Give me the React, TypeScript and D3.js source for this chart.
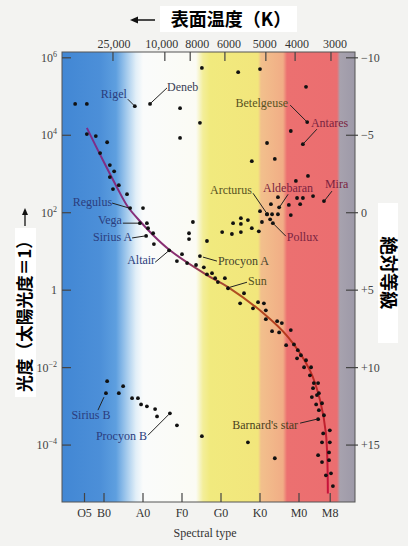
import React from "react";
import * as d3 from "d3";

// spectral type is a continuous index: O=0, B=10, A=20, F=30, G=40, K=50, M=60
const spectralLabels = ["O5", "B0", "A0", "F0", "G0", "K0", "M0", "M8"];
const spectralValues = [5, 10, 20, 30, 40, 50, 60, 68];

const tempLabels = ["25,000", "10,000", "8000", "6000", "5000", "4000", "3000"];
const tempSpectral = [12.3, 25.6, 32.1, 41.0, 51.5, 59.0, 68.2];

const lumExponents = [6, 4, 2, 0, -2, -4];
const magTicks = [-10, -5, 0, 5, 10, 15];

// main sequence line [spectral, log10 L]
const mainSequence: [number, number][] = [
  [5.6, 4.19], [9.7, 3.36], [13.3, 2.66], [16.2, 2.14], [19.7, 1.73],
  [22.6, 1.42], [26.9, 1.03], [36.4, 0.39], [41.8, 0.08], [50.8, -0.59],
  [57.2, -1.21], [62.8, -2.07], [65.4, -2.84], [66.9, -3.7], [67.4, -5.25],
];

// unnamed stars [spectral, log10 L]
const stars: [number, number][] = [
  [2.6, 4.81], [5.6, 4.81], [29.5, 4.7], [35.1, 5.74], [44.4, 5.63], [50.0, 5.71],
  [61.8, 5.25], [34.6, 4.32], [29.5, 3.93], [57.9, 4.11], [51.8, 3.8], [47.9, 3.33],
  [53.8, 3.39], [59.2, 2.82], [62.3, 2.95],
  [54.6, 2.4], [52.8, 2.22], [51.8, 1.96], [53.1, 1.96], [54.6, 1.96], [50.0, 2.04],
  [57.4, 2.2], [59.5, 2.38], [61.0, 2.38], [60.3, 2.22], [63.6, 2.43], [57.9, 1.94],
  [50.5, 1.76], [52.6, 1.83], [45.1, 1.86], [46.9, 1.81], [43.1, 1.73], [45.1, 1.71],
  [47.9, 1.6], [45.1, 1.5], [42.8, 1.45], [40.3, 1.5], [49.7, 1.52], [32.8, 1.76],
  [31.8, 1.47], [31.8, 1.32], [36.4, 1.27],
  [5.6, 4.03], [7.9, 3.98], [10.8, 3.82], [9.0, 3.54], [11.5, 3.23], [12.6, 3.07],
  [11.5, 2.92], [13.8, 2.71], [12.3, 2.61], [15.9, 2.48], [20.0, 2.12], [21.0, 1.73],
  [21.3, 1.6], [22.6, 1.47], [22.8, 1.19], [28.7, 0.75], [30.0, 0.93], [31.3, 0.7],
  [33.6, 0.65], [35.6, 0.59], [36.4, 0.41],
  [37.7, 0.44], [38.5, 0.31], [39.2, 0.21], [41.0, 0.31], [44.9, -0.34], [45.9, -0.08],
  [48.2, -0.47], [49.5, -0.31], [51.0, -0.34], [51.5, -0.52], [51.5, -0.75], [54.4, -0.8],
  [55.6, -0.85], [53.1, -1.06], [54.9, -1.09], [57.9, -1.03], [56.7, -1.42], [58.7, -1.4],
  [59.7, -1.55], [60.5, -1.68], [59.5, -1.76], [61.8, -1.81], [61.3, -1.99], [63.1, -1.99],
  [62.8, -2.2], [63.8, -2.4], [64.9, -2.4], [63.6, -2.53], [64.6, -2.71], [65.1, -2.66],
  [63.3, -2.76], [64.4, -2.95], [65.9, -2.92], [65.1, -3.1], [66.4, -3.23], [67.9, -3.62],
  [66.2, -3.7], [65.9, -3.93], [67.9, -3.93], [64.9, -4.26], [67.7, -4.19], [65.9, -4.44],
  [67.7, -4.39], [66.9, -4.78], [68.2, -4.73], [68.7, -5.06],
  [35.1, -3.77], [46.9, -3.93], [53.8, -4.34],
  [10.8, -2.35], [13.8, -2.66], [14.9, -2.48], [17.2, -2.79], [18.7, -2.79], [19.5, -2.95],
  [21.0, -3.0], [23.1, -3.07], [23.6, -3.26], [28.7, -3.49],
];

const namedStars = [
  { name: "Rigel", s: 17.9, logL: 4.75 },
  { name: "Deneb", s: 21.8, logL: 4.81 },
  { name: "Betelgeuse", s: 62.1, logL: 4.34 },
  { name: "Antares", s: 61.0, logL: 3.77 },
  { name: "Mira", s: 66.4, logL: 2.3 },
  { name: "Aldebaran", s: 54.9, logL: 2.14 },
  { name: "Arcturus", s: 51.8, logL: 1.96 },
  { name: "Pollux", s: 53.3, logL: 1.73 },
  { name: "Regulus", s: 16.7, logL: 2.12 },
  { name: "Vega", s: 19.2, logL: 1.73 },
  { name: "Sirius A", s: 20.8, logL: 1.4 },
  { name: "Altair", s: 26.7, logL: 1.03 },
  { name: "Procyon A", s: 34.6, logL: 0.88 },
  { name: "Sun", s: 41.8, logL: 0.05 },
  { name: "Barnard's star", s: 64.9, logL: -3.33 },
  { name: "Sirius B", s: 10.5, logL: -2.66 },
  { name: "Procyon B", s: 26.9, logL: -3.18 },
];

const BLUE = "#2b3d7d";
const OLIVE = "#57521f";
const MAROON = "#7a2440";

// label placement relative to the star (pixels)
const labelLayout: Record<string, any> = {
  Rigel: { dx: -8, dy: -8, anchor: "end", l: [-7, -7, -1, -1], c: BLUE },
  Deneb: { dx: 17, dy: -13, anchor: "start", l: [17, -16, 1, -1], c: "#3a3f55" },
  Betelgeuse: { dx: -19, dy: -15, anchor: "end", l: [-17, -17, -1, -1], c: OLIVE },
  Antares: { dx: 8, dy: -17, anchor: "start", l: [14, -15, 1, -1], c: MAROON },
  Mira: { dx: 1, dy: -13, anchor: "start", l: [8, -10, 1, -1], c: MAROON },
  Aldebaran: { dx: -16, dy: -15, anchor: "start", l: [9, -13, 1, -1], c: MAROON },
  Arcturus: { dx: -15, dy: -20, anchor: "end", l: [-14, -21, -1, -2], c: OLIVE },
  Pollux: { dx: 14, dy: 18, anchor: "start", l: [13, 13, 1, 1], c: MAROON },
  Regulus: { dx: -18, dy: -2, anchor: "end", l: [-18, -5, -1, 0], c: BLUE },
  Vega: { dx: -18, dy: 1, anchor: "end", l: [-17, 0, -1, 0], c: BLUE },
  "Sirius A": { dx: -14, dy: 5, anchor: "end", l: [-14, 2, -1, 0], c: BLUE },
  Altair: { dx: -14, dy: 14, anchor: "end", l: [-14, 12, -1, 1], c: BLUE },
  "Procyon A": { dx: 18, dy: 9, anchor: "start", l: [3, 1, 17, 5], c: "#45432c" },
  Sun: { dx: 20, dy: -3, anchor: "start", l: [2, -1, 19, -6], c: OLIVE },
  "Barnard's star": { dx: -20, dy: 10, anchor: "end", l: [-18, 4, -1, 0], c: "#4a3f1c" },
  "Sirius B": { dx: -15, dy: 26, anchor: "middle", l: [-2, 4, -8, 17], c: BLUE },
  "Procyon B": { dx: -23, dy: 27, anchor: "end", l: [-22, 22, -1, 1], c: BLUE },
};

// horizontal nudge of temperature labels off their ticks (pixels)
const tempLabelNudge = [1, -3, 7, 4, -1, 2, 4];

const W = 408;
const H = 546;
const left = 62, right = 355, top = 52, bottom = 502;

export default function App() {
  const x = d3.scaleLinear().domain([-0.77, 74.36]).range([left, right]);
  const y = d3.scaleLinear().domain([6.15, -5.47]).range([top, bottom]);
  const mag = d3.scaleLinear().domain([5 - 2.5 * 6.15, 5 + 2.5 * 5.47]).range([top, bottom]);

  const line = d3
    .line<[number, number]>()
    .x((d) => x(d[0]))
    .y((d) => y(d[1]))
    .curve(d3.curveCatmullRom.alpha(0.5));

  const serif = "'Liberation Serif', 'DejaVu Serif', serif";
  const cjk = "'Noto Sans CJK JP', 'Noto Sans CJK SC', sans-serif";
  const bandStops: [number, string][] = [
    [62, "#4287d4"], [100, "#4c8fd8"], [116, "#5e9fdf"], [126, "#a0c8ec"], [136, "#e2eff8"],
    [143, "#fafbfb"], [196, "#fbfbf4"], [203, "#f3ee9a"], [210, "#f1ea7e"], [258, "#f2e67c"],
    [261, "#f2c08c"], [283, "#f1ad86"], [287, "#ec7070"], [337, "#eb6e70"], [340, "#a7a2ae"],
    [355, "#9d99a8"],
  ];

  return (
    <svg width={W} height={H} style={{ position: "absolute", left: 0, top: 0, background: "#f3f3f1" }}>
      <defs>
        <linearGradient id="bands" gradientUnits="userSpaceOnUse" x1={left} x2={right} y1={0} y2={0}>
          {bandStops.map(([px, c], i) => (
            <stop key={i} offset={(px - left) / (right - left)} stopColor={c} />
          ))}
        </linearGradient>
        <linearGradient id="ms" gradientUnits="userSpaceOnUse" x1={0} x2={0} y1={128} y2={495}>
          <stop offset={0} stopColor="#7b2d8e" />
          <stop offset={0.35} stopColor="#8a2f70" />
          <stop offset={0.45} stopColor="#b0501f" />
          <stop offset={0.6} stopColor="#b8321e" />
          <stop offset={1} stopColor="#c8103c" />
        </linearGradient>
      </defs>

      <rect x={left} y={top} width={right - left} height={bottom - top} fill="url(#bands)" stroke="#555" strokeWidth={1} />

      {/* left ticks */}
      {lumExponents.map((e) => (
        <g key={e}>
          <line x1={left} x2={left + 9} y1={y(e)} y2={y(e)} stroke="#444" strokeWidth={1.2} />
          <text x={57} y={y(e) + 4} textAnchor="end" fontFamily={serif} fontSize={12} fill="#444">
            {e === 0 ? "1" : (
              <>
                10<tspan dy={-5} fontSize={8}>{e < 0 ? "−" + -e : e}</tspan>
              </>
            )}
          </text>
        </g>
      ))}

      {/* right ticks */}
      {magTicks.map((m) => (
        <g key={m}>
          <line x1={right - 9} x2={right + 3} y1={mag(m)} y2={mag(m)} stroke="#444" strokeWidth={1.2} />
          <text x={361} y={mag(m) + 4} fontFamily={serif} fontSize={12} fill="#444">
            {m < 0 ? "−" + -m : m > 0 ? "+" + m : "0"}
          </text>
        </g>
      ))}

      {/* top ticks */}
      {tempSpectral.map((s, i) => (
        <g key={i}>
          <line x1={x(s)} x2={x(s)} y1={top} y2={top + 9} stroke="#444" strokeWidth={1.2} />
          <text x={x(s) + tempLabelNudge[i]} y={48} textAnchor="middle" fontFamily={serif} fontSize={12} fill="#333">
            {tempLabels[i]}
          </text>
        </g>
      ))}

      {/* bottom ticks */}
      {spectralValues.map((s, i) => (
        <g key={i}>
          <line x1={x(s)} x2={x(s)} y1={bottom} y2={bottom - 9} stroke="#444" strokeWidth={1.2} />
          <text x={x(s)} y={517} textAnchor="middle" fontFamily={serif} fontSize={12} fill="#333">
            {spectralLabels[i]}
          </text>
        </g>
      ))}
      <text x={205} y={537} textAnchor="middle" fontFamily={serif} fontSize={12} fill="#333">
        Spectral type
      </text>

      <path d={line(mainSequence) || ""} fill="none" stroke="url(#ms)" strokeWidth={2} />

      {stars.map((d, i) => (
        <circle key={i} cx={x(d[0])} cy={y(d[1])} r={1.9} fill="#111" />
      ))}

      {namedStars.map((d) => {
        const L = labelLayout[d.name];
        const cx = x(d.s);
        const cy = y(d.logL);
        return (
          <g key={d.name}>
            <circle cx={cx} cy={cy} r={1.9} fill="#111" />
            <line x1={cx + L.l[0]} y1={cy + L.l[1]} x2={cx + L.l[2]} y2={cy + L.l[3]} stroke="#222" strokeWidth={1} />
            <text x={cx + L.dx} y={cy + L.dy} textAnchor={L.anchor} fontFamily={serif} fontSize={12} fill={L.c}>
              {d.name}
            </text>
          </g>
        );
      })}

      {/* title */}
      <rect x={160} y={6} width={137} height={26} fill="#fff" />
      <text x={231} y={26} textAnchor="middle" fontFamily={cjk} fontWeight="bold" fontSize={18} fill="#000">
        表面温度（K）
      </text>
      <line x1={133} x2={155} y1={20} y2={20} stroke="#111" strokeWidth={1.5} />
      <path d="M130,20 L138,16.5 L138,23.5 Z" fill="#111" />

      {/* left axis label */}
      <rect x={15} y={228} width={21} height={169} fill="#fff" />
      <text
        transform="translate(31,312) rotate(-90)"
        textAnchor="middle"
        fontFamily={cjk}
        fontWeight="bold"
        fontSize={17}
        textLength={160}
        lengthAdjust="spacingAndGlyphs"
        fill="#000"
      >
        光度（太陽光度＝1）
      </text>
      <line x1={25} x2={25} y1={226} y2={212} stroke="#111" strokeWidth={1.3} />
      <path d="M25,208 L22,215 L28,215 Z" fill="#111" />

      {/* right axis label */}
      <rect x={378} y={203} width={20} height={140} fill="#fff" />
      <text
        transform="translate(382,273) rotate(90)"
        textAnchor="middle"
        fontFamily={cjk}
        fontWeight="bold"
        fontSize={18}
        textLength={73}
        lengthAdjust="spacingAndGlyphs"
        fill="#000"
      >
        絶対等級
      </text>
    </svg>
  );
}
